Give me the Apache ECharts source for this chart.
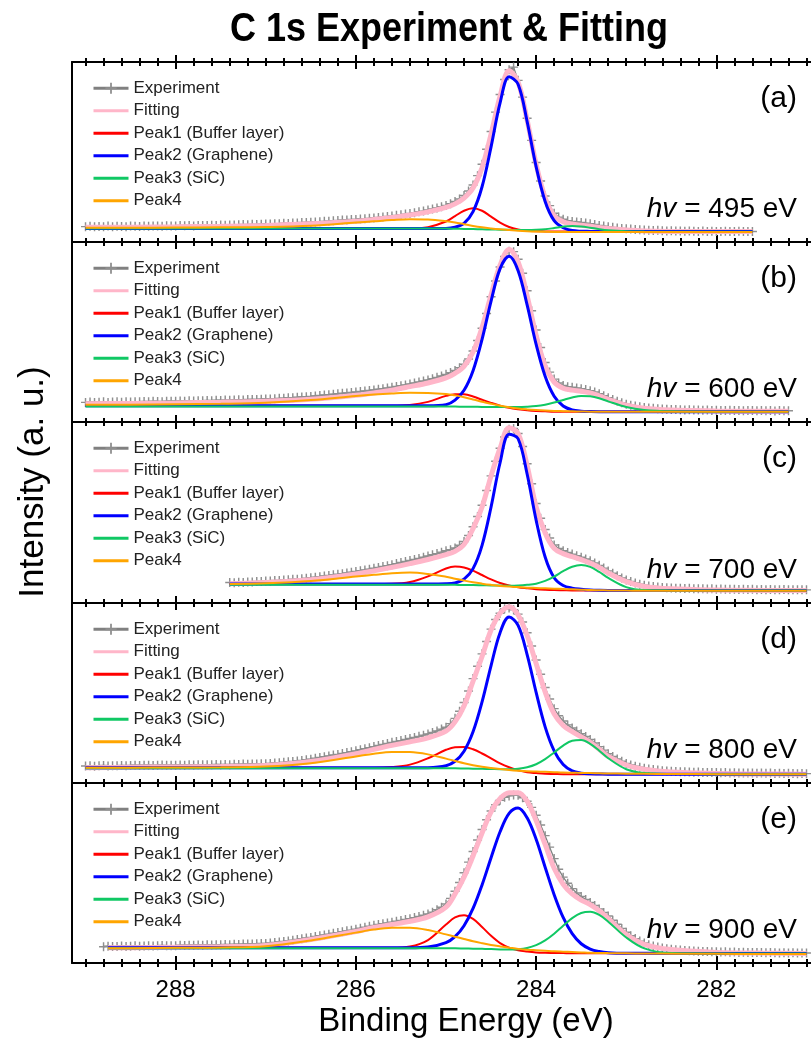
<!DOCTYPE html>
<html>
<head>
<meta charset="utf-8">
<title>C 1s Experiment &amp; Fitting</title>
<script src="https://cdn.jsdelivr.net/npm/echarts@6/dist/echarts.min.js"></script>
<style>
html, body { margin: 0; padding: 0; background: #fff; }
#chart { width: 811px; height: 1043px; }
</style>
</head>
<body>
<div id="chart"></div>
<script>
// panel labels / photon energies
var PANEL_TAGS = ['(a)', '(b)', '(c)', '(d)', '(e)'];
var PHOTON_EV = [495, 600, 700, 800, 900];
var SERIES_NAMES = ['Experiment', 'Fitting', 'Peak1 (Buffer layer)', 'Peak2 (Graphene)', 'Peak3 (SiC)', 'Peak4'];
var X_MAJOR = [282, 284, 286, 288];

// experiment: first binding energy of each panel, sampled every EXP_STEP eV
var EXP_STEP = 0.05;
var EXP_START = [289.0, 289.0, 287.4, 289.0, 288.8];

var EXP_A = [6.6,6.8,6.5,6.7,6.6,6.9,6.6,6.8,6.7,6.6,6.9,
  6.8,6.7,7.0,6.8,6.9,7.0,6.8,7.1,7.0,7.0,
  7.2,7.1,7.2,7.0,7.3,7.2,7.3,7.4,7.3,7.5,
  7.4,7.6,7.5,7.7,7.8,7.7,7.9,7.8,8.0,8.1,
  8.1,8.3,8.2,8.5,8.4,8.7,8.6,8.9,9.0,9.1,
  9.3,9.4,9.6,9.7,10.0,10.1,10.3,10.4,10.6,10.7,
  10.9,11.1,11.3,11.5,11.8,12.0,12.3,12.6,13.0,13.3,
  13.7,14.1,14.5,15.0,15.4,16.0,16.6,17.2,17.9,18.6,
  19.6,20.8,22.3,24.2,26.8,30.2,35.5,42.0,50.5,60.5,
  71.5,81.5,90.0,95.5,97.0,89.5,80.0,68.0,55.5,43.0,
  32.5,24.0,18.5,14.2,12.0,10.8,10.0,9.5,9.2,8.9,
  8.6,8.2,7.8,7.3,6.9,6.5,6.2,5.9,5.6,5.4,
  5.2,5.0,4.8,4.7,4.6,4.4,4.5,4.3,4.2,4.3,
  4.1,4.2,4.0,4.1,4.0,3.9,4.1,3.9,4.0,3.9,
  3.8,4.0,3.9,3.8,4.0,3.9,3.8,3.9];
var EXP_B = [8.2,8.4,8.1,8.3,8.5,8.2,8.4,8.6,8.3,8.5,8.4,
  8.6,8.5,8.7,8.6,8.8,8.7,8.6,8.9,8.8,8.8,
  9.0,8.9,9.1,9.0,9.2,9.1,9.3,9.2,9.4,9.3,
  9.5,9.4,9.6,9.7,9.6,9.8,9.9,9.8,10.0,10.1,
  10.2,10.3,10.5,10.6,10.8,10.9,11.1,11.3,11.4,11.6,
  11.9,12.1,12.4,12.6,12.9,13.1,13.4,13.6,13.9,14.1,
  14.4,14.7,15.0,15.3,15.7,16.0,16.4,16.8,17.3,17.7,
  18.2,18.7,19.3,19.8,20.4,21.0,21.7,22.5,23.3,24.2,
  25.2,26.4,28.0,30.0,33.0,37.5,43.5,50.5,59.0,68.5,
  77.5,85.5,91.5,94.5,94.3,90.0,82.0,72.0,60.5,49.5,
  39.5,31.0,25.5,21.5,19.3,17.9,17.2,16.8,16.4,16.0,
  15.5,14.9,14.1,13.1,12.0,10.9,9.8,8.9,8.0,7.2,
  6.6,6.1,5.7,5.3,5.0,4.8,4.6,4.4,4.3,4.1,
  4.2,4.0,3.9,4.0,3.8,3.9,3.7,3.8,3.6,3.7,
  3.6,3.5,3.7,3.5,3.6,3.4,3.5,3.6,3.4,3.5,
  3.4,3.5,3.3,3.5,3.4,3.4];
var EXP_C = [6.3,6.1,6.4,6.3,6.6,6.5,6.8,6.9,7.1,
  7.1,7.4,7.5,7.7,7.8,8.1,8.2,8.5,8.7,9.0,
  9.3,9.6,10.0,10.3,10.7,11.0,11.4,11.8,12.2,12.6,
  13.1,13.5,14.0,14.5,15.0,15.5,16.0,16.6,17.2,17.8,
  18.4,19.0,19.6,20.2,20.9,21.6,22.3,23.0,23.8,24.6,
  25.3,26.3,27.8,30.0,33.5,38.5,44.5,51.0,59.5,68.0,
  76.5,84.0,90.5,95.0,95.5,92.5,85.0,75.0,63.5,52.0,
  43.5,37.0,32.0,28.0,26.0,24.6,23.6,22.7,21.8,20.9,
  19.9,18.8,17.6,16.2,14.6,13.0,11.6,10.2,8.9,7.7,
  6.8,6.0,5.3,4.7,4.2,3.9,3.6,3.4,3.2,3.1,
  3.0,2.9,2.8,2.9,2.7,2.6,2.7,2.5,2.6,2.4,
  2.5,2.4,2.3,2.4,2.2,2.3,2.2,2.3,2.1,2.2,
  2.1,2.2,2.0,2.1,2.2,2.0,2.1,2.0,2.1,2.0];
var EXP_D = [7.0,7.2,6.9,7.1,7.3,7.0,7.2,7.1,7.3,7.2,7.3,
  7.4,7.3,7.4,7.5,7.3,7.4,7.6,7.4,7.5,7.5,
  7.6,7.5,7.7,7.6,7.8,7.7,7.8,7.7,7.9,7.8,
  7.9,7.8,8.0,7.9,8.1,8.0,8.2,8.1,8.3,8.3,
  8.5,8.7,8.9,9.1,9.4,9.6,9.9,10.2,10.6,10.9,
  11.4,11.8,12.3,12.7,13.2,13.6,14.1,14.6,15.1,15.6,
  16.2,16.8,17.4,18.0,18.6,19.2,19.8,20.4,20.9,21.4,
  22.0,22.6,23.2,23.8,24.5,25.2,26.0,26.9,27.9,29.0,
  31.0,34.0,38.0,43.0,49.5,56.5,63.5,70.5,77.5,84.5,
  90.0,93.5,96.0,96.5,95.5,93.0,88.5,82.5,75.0,67.0,
  59.0,51.5,45.0,39.5,35.5,32.5,30.3,28.5,26.9,25.3,
  23.7,22.0,20.0,18.0,16.0,14.0,12.4,11.0,9.7,8.5,
  7.6,6.9,6.3,5.8,5.3,5.0,4.7,4.4,4.2,4.0,
  3.9,3.7,3.8,3.6,3.5,3.6,3.4,3.3,3.4,3.3,
  3.2,3.3,3.1,3.2,3.0,3.1,3.0,3.1,2.9,3.0,
  2.9,3.0,2.8,2.9,2.8,2.9,2.8,2.7,2.8,2.7];
var EXP_E = [6.6,6.9,6.7,6.8,7.0,6.8,6.9,
  7.1,6.9,7.0,7.2,7.0,7.1,7.3,7.1,7.2,7.2,
  7.4,7.3,7.5,7.4,7.6,7.5,7.7,7.6,7.8,7.7,
  7.9,7.8,8.0,7.9,8.1,8.1,8.2,8.3,8.4,8.5,
  8.7,9.0,9.3,9.6,9.9,10.3,10.7,11.1,11.5,11.9,
  12.4,12.8,13.3,13.7,14.2,14.6,15.1,15.6,16.0,16.5,
  17.1,17.6,18.2,18.7,19.2,19.6,20.1,20.5,21.0,21.5,
  22.0,22.5,23.1,23.7,24.4,25.2,26.2,27.5,29.0,30.8,
  34.0,38.0,43.0,48.5,54.5,60.5,67.0,73.0,78.5,83.5,
  87.0,89.5,91.2,92.0,92.5,92.3,91.0,89.0,85.5,81.0,
  75.5,69.5,63.0,56.5,50.5,46.0,42.5,39.5,37.0,35.0,
  33.3,31.6,30.0,28.0,26.0,24.0,21.6,19.3,17.0,14.8,
  12.8,11.2,9.8,8.7,7.8,7.0,6.4,5.9,5.5,5.2,
  4.9,4.7,4.5,4.3,4.2,4.0,3.9,3.9,3.7,3.8,
  3.6,3.7,3.5,3.6,3.4,3.5,3.4,3.3,3.4,3.3,
  3.2,3.3,3.2,3.1,3.2,3.1,3.2,3.1,3.0,3.1];

// fitted curves: binding energies and intensities per panel
var FIT_BE_A = [289.0,288.5,288.0,287.5,287.0,286.5,286.0,285.8,285.6,285.4,285.2,285.0,284.9,284.8,284.7,284.6,284.5,284.4,284.3,284.2,284.1,284.0,283.9,283.8,283.7,283.6,283.5,283.4,283.3,283.2,283.0,282.8,282.5,282.0,281.6];
var FIT_A = [6.2,6.3,6.5,6.8,7.3,8.2,9.6,10.6,11.8,13.2,15.0,17.5,19.5,22.8,28.5,40.0,59.0,80.5,95.0,88.5,67.0,42.0,23.0,12.8,9.4,8.1,7.4,6.8,6.1,5.5,4.7,4.2,3.9,3.8,3.8];
var P1_A = [5.5,5.5,5.5,5.5,5.5,5.5,5.5,5.5,5.5,5.5,6.3,9.5,12.6,15.6,17.0,15.6,12.3,8.9,6.4,5.0,4.3,4.0,3.9,3.8,3.8,3.8,3.8,3.8,3.8,3.8,3.8,3.8,3.8,3.8,3.8];
var P2_A = [5.5,5.5,5.5,5.5,5.5,5.5,5.5,5.5,5.5,5.5,5.5,5.6,6.3,8.5,15.1,29.2,51.8,76.7,91.6,87.3,66.2,40.6,20.9,10.0,6.0,4.4,4.0,3.9,3.8,3.8,3.8,3.8,3.8,3.8,3.8];
var P3_A = [5.5,5.5,5.5,5.5,5.5,5.5,5.5,5.5,5.5,5.5,5.5,5.5,5.4,5.3,5.2,5.1,5.0,4.9,4.8,4.7,4.7,4.8,5.1,5.8,6.6,7.0,6.7,6.0,5.2,4.6,4.0,3.8,3.7,3.7,3.7];
var P4_A = [6.0,6.0,6.1,6.2,6.4,7.1,8.9,9.6,10.3,10.8,10.6,9.7,9.0,8.0,7.0,6.2,5.6,5.1,4.7,4.3,4.0,3.8,3.7,3.6,3.6,3.6,3.5,3.5,3.5,3.5,3.5,3.5,3.5,3.5,3.5];

var FIT_BE_B = [289.0,288.5,288.0,287.5,287.0,286.5,286.0,285.8,285.6,285.4,285.2,285.0,284.9,284.8,284.7,284.6,284.5,284.4,284.3,284.2,284.1,284.0,283.9,283.8,283.7,283.6,283.5,283.4,283.3,283.2,283.0,282.8,282.5,282.0,281.5,281.2];
var FIT_B = [7.4,7.6,7.9,8.3,8.9,10.0,12.3,13.6,15.2,17.2,19.3,22.2,24.8,28.8,37.0,51.0,69.5,86.5,95.5,88.5,69.0,46.5,29.0,19.8,16.3,15.2,14.6,13.6,12.0,9.9,6.6,4.8,3.8,3.3,3.1,3.1];
var P1_B = [6.3,6.3,6.3,6.3,6.3,6.3,6.3,6.3,6.3,6.7,8.5,11.9,12.9,12.8,11.6,9.7,7.9,6.3,5.1,4.3,3.7,3.3,3.1,2.9,2.9,2.9,2.9,2.9,2.9,2.9,2.9,2.9,2.9,2.9,2.9,2.9];
var P2_B = [6.3,6.3,6.3,6.3,6.3,6.3,6.3,6.3,6.3,6.3,6.3,6.9,9.5,15.1,26.3,44.2,66.1,84.6,91.6,83.4,63.9,41.3,23.1,11.7,6.1,3.9,3.2,3.0,2.9,2.9,2.9,2.9,2.9,2.9,2.9,2.9];
var P3_B = [5.8,5.8,5.8,5.8,5.8,5.8,5.8,5.8,5.8,5.8,5.8,5.8,5.8,5.7,5.7,5.6,5.6,5.5,5.5,5.5,5.7,6.1,6.9,8.1,9.6,11.0,11.9,11.7,10.6,8.8,5.6,3.9,3.1,2.9,2.9,2.9];
var P4_B = [6.8,6.9,7.1,7.4,8.0,9.5,11.9,12.7,13.3,13.7,13.6,13.0,12.2,11.1,9.8,8.6,7.4,6.3,5.4,4.7,4.2,3.8,3.5,3.3,3.2,3.1,3.0,2.9,2.9,2.9,2.9,2.9,2.9,2.9,2.9,2.9];

var FIT_BE_C = [287.4,287.0,286.5,286.0,285.8,285.6,285.4,285.2,285.0,284.9,284.8,284.7,284.6,284.5,284.4,284.3,284.2,284.1,284.0,283.9,283.8,283.7,283.6,283.5,283.4,283.3,283.2,283.0,282.8,282.5,282.0,281.5,281.0];
var FIT_C = [5.6,6.3,7.8,11.2,13.0,15.0,17.2,19.6,22.4,24.3,28.3,37.5,50.0,68.0,84.0,95.8,92.5,74.0,50.0,35.0,26.0,23.0,21.2,19.5,17.5,15.0,11.8,6.8,4.0,2.6,1.9,1.7,1.6];
var P1_C = [5.4,5.4,5.4,5.4,5.4,5.5,6.5,9.8,14.4,15.5,15.0,13.1,10.6,8.1,6.0,4.5,3.5,2.9,2.4,2.1,1.9,1.8,1.7,1.7,1.7,1.7,1.7,1.7,1.7,1.7,1.6,1.6,1.6];
var P2_C = [5.4,5.4,5.4,5.4,5.4,5.4,5.4,5.4,5.5,6.0,8.2,14.3,27.8,50.0,75.6,92.1,89.5,69.1,42.4,21.0,9.0,4.5,3.0,2.4,2.0,1.8,1.7,1.7,1.7,1.7,1.6,1.6,1.6];
var P3_C = [5.0,5.0,5.0,5.0,5.0,5.0,5.0,5.0,5.0,4.9,4.8,4.8,4.7,4.6,4.5,4.4,4.5,4.9,5.6,7.2,9.7,12.8,15.4,16.4,15.3,12.4,8.9,3.6,1.9,1.7,1.6,1.6,1.6];
var P4_C = [5.4,5.8,7.1,9.7,10.7,11.6,12.0,11.2,9.6,8.5,7.4,6.4,5.6,4.9,4.3,3.9,3.6,3.3,3.1,2.9,2.7,2.5,2.3,2.1,1.9,1.8,1.7,1.6,1.5,1.5,1.5,1.5,1.5];

var FIT_BE_D = [289.0,288.5,288.0,287.5,287.0,286.5,286.0,285.8,285.6,285.4,285.2,285.0,284.9,284.8,284.7,284.6,284.5,284.4,284.3,284.2,284.1,284.0,283.9,283.8,283.7,283.6,283.5,283.4,283.3,283.2,283.0,282.8,282.5,282.0,281.5,281.0];
var FIT_D = [6.1,6.3,6.5,6.8,7.3,9.6,14.0,16.4,18.7,20.7,23.0,26.8,32.0,41.0,55.0,69.0,84.0,93.5,97.2,92.5,81.0,65.0,49.0,36.5,30.0,26.5,23.5,20.5,16.5,12.5,7.6,5.2,3.6,2.8,2.5,2.4];
var P1_D = [6.0,6.0,6.0,6.0,6.0,6.0,6.0,6.0,6.4,7.8,11.4,16.2,17.7,17.8,16.5,14.1,11.3,8.5,6.3,4.6,3.5,3.0,2.6,2.5,2.4,2.4,2.4,2.4,2.4,2.4,2.4,2.4,2.4,2.4,2.4,2.3];
var P2_D = [6.0,6.0,6.0,6.0,6.0,6.0,6.0,6.0,6.0,6.0,6.1,7.2,9.7,15.4,26.4,43.3,63.9,82.5,91.4,86.6,70.1,48.7,29.2,15.6,7.9,4.3,3.0,2.6,2.5,2.4,2.4,2.4,2.4,2.4,2.3,2.3];
var P3_D = [5.7,5.7,5.7,5.7,5.7,5.7,5.7,5.7,5.7,5.7,5.7,5.7,5.7,5.6,5.5,5.4,5.3,5.2,5.2,5.5,6.3,8.0,10.9,14.7,18.6,21.3,21.7,19.6,15.7,11.4,5.2,3.0,2.5,2.4,2.3,2.3];
var P4_D = [6.0,6.1,6.2,6.3,6.7,8.6,12.4,14.0,15.0,14.9,13.6,11.2,9.9,8.6,7.5,6.6,5.9,5.3,4.8,4.4,4.1,3.9,3.7,3.5,3.3,3.2,3.1,3.0,2.9,2.8,2.7,2.6,2.5,2.4,2.3,2.3];

var FIT_BE_E = [288.75,288.5,288.0,287.5,287.0,286.5,286.0,285.8,285.6,285.4,285.2,285.0,284.9,284.8,284.7,284.6,284.5,284.4,284.3,284.2,284.1,284.0,283.9,283.8,283.7,283.6,283.5,283.4,283.3,283.2,283.0,282.8,282.5,282.0,281.5,281.0];
var FIT_E = [6.0,6.1,6.3,6.6,7.3,10.7,15.2,17.5,19.2,21.0,23.5,29.0,36.5,46.0,58.0,71.0,83.0,90.5,93.8,93.8,89.0,78.0,64.5,51.0,42.0,36.5,33.0,30.5,27.0,22.5,13.5,8.0,5.0,3.4,3.0,2.8];
var P1_E = [6.0,6.0,6.0,6.0,6.0,6.0,6.0,6.0,6.0,6.7,10.4,19.2,23.2,24.5,22.4,17.8,12.8,8.7,6.1,4.6,3.9,3.4,3.2,3.1,3.0,2.9,2.9,2.9,2.9,2.9,2.9,2.8,2.8,2.8,2.8,2.8];
var P2_E = [6.0,6.0,6.0,6.0,6.0,6.0,6.0,6.0,6.0,6.0,6.4,8.9,12.3,18.5,28.3,41.6,57.0,71.7,82.1,85.1,79.6,67.4,51.6,36.1,23.2,14.0,8.3,5.3,3.9,3.2,2.9,2.9,2.8,2.8,2.8,2.8];
var P3_E = [5.7,5.7,5.7,5.7,5.7,5.7,5.7,5.7,5.7,5.7,5.7,5.7,5.7,5.6,5.5,5.4,5.3,5.1,5.0,5.2,5.9,7.5,10.2,14.0,18.5,22.8,25.7,26.4,24.6,20.8,11.8,5.7,3.0,2.8,2.8,2.8];
var P4_E = [5.7,5.8,6.0,6.2,6.9,10.2,14.6,16.3,17.3,17.4,16.1,13.6,12.3,11.0,9.7,8.6,7.6,6.8,6.1,5.4,4.9,4.6,4.3,4.0,3.8,3.6,3.4,3.2,3.1,3.0,2.9,2.8,2.7,2.6,2.5,2.5];

// layout
var X_MIN = 280.95, X_MAX = 289.15;
var PANEL_EDGES = [62, 242, 422, 603, 783, 963];
var Y_MIN = [-2.1, -3.0, -5.6, -2.6, -2.6];
var Y_MAX = [99.9, 99.8, 99.2, 99.3, 99.3];
var FONT = '"Liberation Sans", Arial, Helvetica, sans-serif';
var COLORS = ['#808080', '#ffb6c9', '#ff0000', '#0000ff', '#10c864', '#ffa500'];
var MARK_COLOR = '#8f8f8f';
var WIDTHS = [1.3, 5, 2, 3, 2, 2];
var CROSS = 'path://M0,4.2H10V5.8H0Z M4.2,0H5.8V10H4.2Z';

var panels = [
  {exp: EXP_A, be: FIT_BE_A, curves: [FIT_A, P1_A, P2_A, P3_A, P4_A]},
  {exp: EXP_B, be: FIT_BE_B, curves: [FIT_B, P1_B, P2_B, P3_B, P4_B]},
  {exp: EXP_C, be: FIT_BE_C, curves: [FIT_C, P1_C, P2_C, P3_C, P4_C]},
  {exp: EXP_D, be: FIT_BE_D, curves: [FIT_D, P1_D, P2_D, P3_D, P4_D]},
  {exp: EXP_E, be: FIT_BE_E, curves: [FIT_E, P1_E, P2_E, P3_E, P4_E]}
];

var minorTicks = [];
for (var k = 0; k <= 40; k++) minorTicks.push(+(281 + k * 0.2).toFixed(1));

function lineAxis(gi, pos) {
  return {
    type: 'value', gridIndex: gi, position: pos, min: X_MIN, max: X_MAX, inverse: true,
    axisLine: {show: true, onZero: false, lineStyle: {color: '#000', width: 2}},
    axisTick: {show: false}, axisLabel: {show: false}, splitLine: {show: false}
  };
}
function tickAxis(gi, pos, off, len, values, withLabels) {
  return {
    type: 'value', gridIndex: gi, position: pos, offset: off, min: X_MIN, max: X_MAX, inverse: true,
    axisLine: {show: false, onZero: false},
    axisTick: {show: true, inside: false, length: len, customValues: values,
      lineStyle: {color: '#000', width: 2}},
    axisLabel: withLabels ? {show: true, customValues: X_MAJOR, margin: 22, fontSize: 24,
      color: '#000', fontFamily: FONT} : {show: false},
    splitLine: {show: false}
  };
}

// legend items: only the experiment keeps its cross marker
var legendData = SERIES_NAMES.map(function (n, k) {
  return k === 0 ? {name: n} : {name: n, itemStyle: {opacity: 0}};
});

var grids = [], xAxes = [], yAxes = [], legends = [], series = [], graphics = [];

panels.forEach(function (p, i) {
  var top = PANEL_EDGES[i], bottom = PANEL_EDGES[i + 1];
  grids.push({left: 72, width: 739, top: top, height: bottom - top, outerBoundsMode: 'none'});
  var xi = xAxes.length;
  xAxes.push(lineAxis(i, 'bottom'));
  xAxes.push(tickAxis(i, 'bottom', -4, 8, minorTicks, false));
  xAxes.push(tickAxis(i, 'bottom', -7, 14, X_MAJOR, i === panels.length - 1));
  if (i === 0) {
    xAxes.push(lineAxis(i, 'top'));
    xAxes.push(tickAxis(i, 'top', -4, 8, minorTicks, false));
    xAxes.push(tickAxis(i, 'top', -7, 14, X_MAJOR, false));
  }
  yAxes.push({
    type: 'value', gridIndex: i, min: Y_MIN[i], max: Y_MAX[i],
    axisLine: {show: true, onZero: false, lineStyle: {color: '#000', width: 2}},
    axisTick: {show: false}, axisLabel: {show: false}, splitLine: {show: false}
  });

  // experiment with cross markers
  series.push({
    name: SERIES_NAMES[0], type: 'line', xAxisIndex: xi, yAxisIndex: i,
    data: p.exp.map(function (v, k) { return [+(EXP_START[i] - k * EXP_STEP).toFixed(2), v]; }),
    symbol: CROSS, symbolSize: [9, 9], showSymbol: true, showAllSymbol: true,
    lineStyle: {color: COLORS[0], width: WIDTHS[0]}, itemStyle: {color: MARK_COLOR},
    z: 2, animation: false, silent: true
  });
  // fit and peaks
  p.curves.forEach(function (ys, c) {
    series.push({
      name: SERIES_NAMES[c + 1], type: 'line', xAxisIndex: xi, yAxisIndex: i,
      data: p.be.map(function (x, k) { return [x, ys[k]]; }),
      smooth: 0.35, symbol: 'none',
      lineStyle: {color: COLORS[c + 1], width: WIDTHS[c + 1]}, itemStyle: {color: COLORS[c + 1]},
      z: 3, animation: false, silent: true
    });
  });

  legends.push({
    orient: 'vertical', left: 92, top: top + 15, padding: 0, itemGap: 0,
    itemWidth: 35, itemHeight: 14, selectedMode: false, data: legendData,
    textStyle: {fontSize: 17, lineHeight: 22.5, color: '#222', fontFamily: FONT},
    lineStyle: {width: 3}
  });

  graphics.push({
    type: 'text', x: 797, y: top + 37, z: 100,
    style: {text: PANEL_TAGS[i], fontSize: 30, fontFamily: FONT, fill: '#000', align: 'right', verticalAlign: 'middle'}
  });
  graphics.push({
    type: 'text', x: 797, y: bottom - 33, z: 100,
    style: {
      text: '{i|hv} = ' + PHOTON_EV[i] + ' eV', fontSize: 28, fontFamily: FONT, fill: '#000',
      align: 'right', verticalAlign: 'middle',
      rich: {i: {fontStyle: 'italic', fontSize: 28, fontFamily: FONT, fill: '#000'}}
    }
  });
});

// condensed bold title (narrow face approximated by horizontal scaling)
graphics.push({
  type: 'text', x: 449, y: 30, scaleX: 0.9, z: 100,
  style: {text: 'C 1s Experiment & Fitting', fontSize: 40, fontWeight: 'bold', fontFamily: FONT,
    fill: '#000', align: 'center', verticalAlign: 'middle'}
});
graphics.push({
  type: 'text', x: 466, y: 1022, z: 100,
  style: {text: 'Binding Energy (eV)', fontSize: 33, fontFamily: FONT, fill: '#000',
    align: 'center', verticalAlign: 'middle'}
});
graphics.push({
  type: 'text', x: 33, y: 482, rotation: Math.PI / 2, z: 100,
  style: {text: 'Intensity (a. u.)', fontSize: 35, fontFamily: FONT, fill: '#000',
    align: 'center', verticalAlign: 'middle'}
});

var myChart = echarts.init(document.getElementById('chart'));
myChart.setOption({
  backgroundColor: '#fff',
  animation: false,
  grid: grids,
  xAxis: xAxes,
  yAxis: yAxes,
  legend: legends,
  series: series,
  graphic: graphics
});
</script>
</body>
</html>
